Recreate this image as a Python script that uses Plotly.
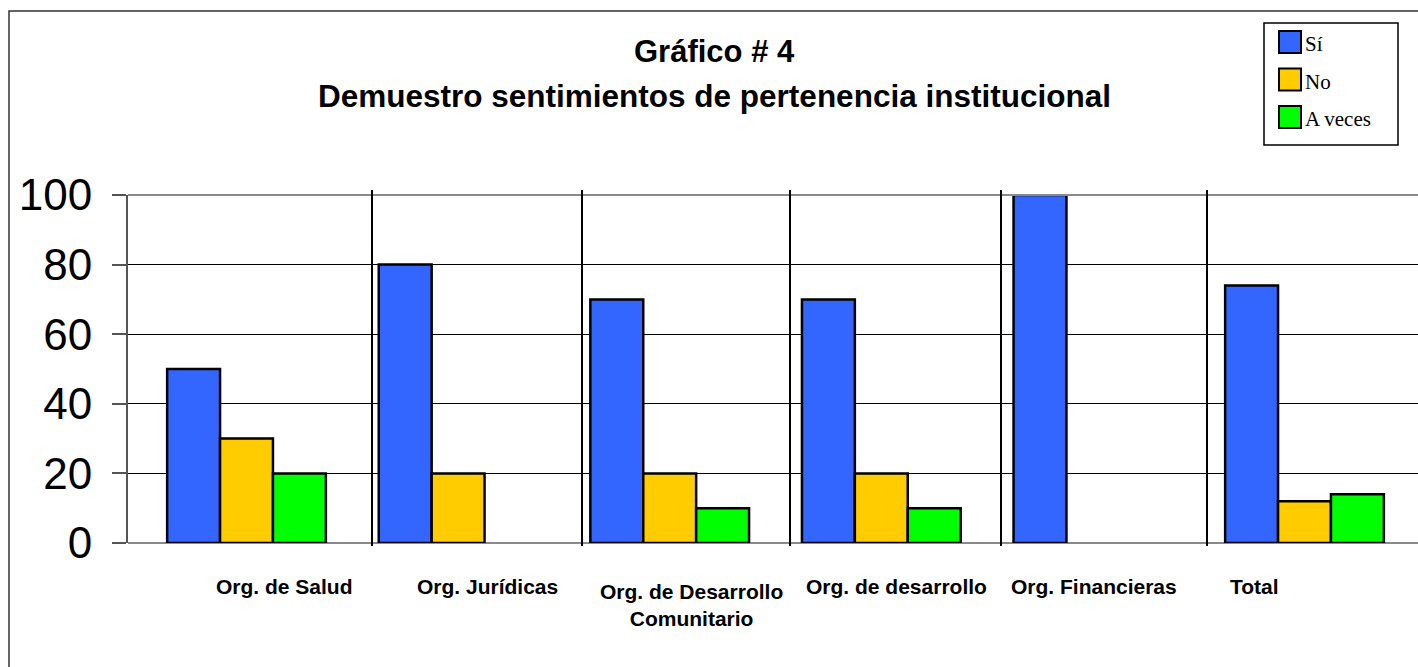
import plotly.graph_objects as go

categories = ["Org. de Salud", "Org. Jurídicas", "Org. de Desarrollo<br>Comunitario",
              "Org. de desarrollo", "Org. Financieras", "Total"]
series_names = ["Sí", "No", "A veces"]
si_values = [50, 80, 70, 70, 100, 74]
no_values = [30, 20, 20, 20, None, 12]
aveces_values = [20, None, 10, 10, None, 14]
y_ticks = [0, 20, 40, 60, 80, 100]
title_lines = ["Gráfico # 4", "Demuestro sentimientos de pertenencia institucional"]

colors = ["#3366FF", "#FFCC00", "#00FF00"]
all_values = [si_values, no_values, aveces_values]

W, H = 1418, 667
L, R, T, B = 128, 0, 195, 124
PW, PH = W - L - R, H - T - B


def px(x):
    return (x - L) / PW


def py(y):
    return (H - B - y) / PH


SANS = "Liberation Sans, Arial, sans-serif"
SERIF = "Liberation Serif, Times New Roman, serif"

fig = go.Figure()
for name, vals, col in zip(series_names, all_values, colors):
    fig.add_trace(go.Bar(
        x=categories, y=vals, name=name,
        marker=dict(color=col, line=dict(color="black", width=2.5)),
        showlegend=False,
    ))

# category unit in px ~ 211.6; first group centre at 246.5 px
unit = 211.6
x_start = -(246.5 - L) / unit
x_end = x_start + PW / unit

shapes = []
annotations = []

# outer frame
shapes.append(dict(type="rect", xref="paper", yref="paper",
                   x0=px(9), y0=py(11), x1=px(1440), y1=py(700),
                   line=dict(color="#333333", width=1.5), layer="below"))

# top gridline (grey)
shapes.append(dict(type="line", xref="paper", yref="paper",
                   x0=0, x1=1, y0=1, y1=1, line=dict(color="#8a8a8a", width=2)))

# category separators
for sx in [372, 582, 790, 1001, 1207]:
    shapes.append(dict(type="line", xref="paper", yref="paper",
                       x0=px(sx), x1=px(sx), y0=py(546), y1=py(190),
                       line=dict(color="black", width=2)))

# title
annotations.append(dict(text="<b>%s</b>" % title_lines[0], xref="paper", yref="paper",
                        x=px(714), y=py(51), xanchor="center", yanchor="middle",
                        showarrow=False, font=dict(family=SANS, size=31, color="black")))
annotations.append(dict(text="<b>%s</b>" % title_lines[1], xref="paper", yref="paper",
                        x=px(714), y=py(96), xanchor="center", yanchor="middle",
                        showarrow=False, font=dict(family=SANS, size=31.5, color="black")))

# category labels
label_shift = [38, 29, 22, 15, 1, -50]
for cat, sh in zip(categories, label_shift):
    yc = 605 if "<br>" in cat else 586
    annotations.append(dict(text="<b>%s</b>" % cat, xref="x", yref="paper",
                            x=cat, xshift=sh, y=py(yc), xanchor="center", yanchor="middle",
                            showarrow=False, font=dict(family=SANS, size=21, color="black")))

# legend box
shapes.append(dict(type="rect", xref="paper", yref="paper",
                   x0=px(1264), y0=py(145), x1=px(1398), y1=py(23),
                   line=dict(color="black", width=1.5), fillcolor="white"))
for i, (name, col) in enumerate(zip(series_names, colors)):
    cy = 42 + i * 37.5
    shapes.append(dict(type="rect", xref="paper", yref="paper",
                       x0=px(1279), x1=px(1301), y0=py(cy + 11), y1=py(cy - 11),
                       line=dict(color="black", width=2), fillcolor=col))
    annotations.append(dict(text=name, xref="paper", yref="paper",
                            x=px(1303), y=py(cy + 2), xanchor="left", yanchor="middle",
                            showarrow=False, font=dict(family=SERIF, size=21, color="black")))

fig.update_layout(
    width=W, height=H,
    margin=dict(l=L, r=R, t=T, b=B, pad=0),
    paper_bgcolor="white", plot_bgcolor="white",
    barmode="group", bargap=0.25, bargroupgap=0,
    showlegend=False,
    shapes=shapes, annotations=annotations,
    xaxis=dict(type="category", range=[x_start, x_end], showticklabels=False,
               showgrid=False, zeroline=False, showline=False, ticks=""),
    yaxis=dict(range=[0, 100], tickvals=y_ticks, ticktext=[str(v) for v in y_ticks],
               showgrid=True, gridcolor="black", gridwidth=1,
               zeroline=True, zerolinecolor="#8a8a8a", zerolinewidth=2,
               showline=True, linecolor="#555555", linewidth=2,
               ticks="outside", ticklen=14, tickcolor="#555555", tickwidth=1.5,
               ticklabelstandoff=11,
               tickfont=dict(family=SANS, size=44, color="black")),
)

fig.write_html("out.html", config={"displayModeBar": False},
               post_script="document.body.style.margin='0';document.body.style.overflow='hidden';")
